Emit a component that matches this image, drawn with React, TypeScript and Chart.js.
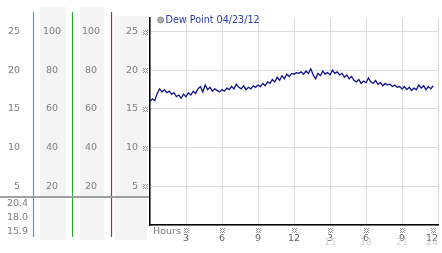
import React, { useEffect, useRef } from "react";
import { Chart, registerables } from "chart.js";

Chart.register(...registerables);

// ---------- data ----------
const STEP_HOURS = 0.2;
const dewPoint = [
  16.0, 16.3, 16.1, 17.0, 17.6, 17.2, 17.5, 17.1, 17.3, 16.9,
  17.1, 16.6, 16.8, 16.4, 16.9, 16.6, 17.1, 16.8, 17.3, 17.0,
  17.6, 17.9, 17.2, 18.1, 17.5, 17.8, 17.3, 17.6, 17.4, 17.2,
  17.5, 17.3, 17.7, 17.5, 17.9, 17.6, 18.2, 17.8, 17.6, 18.0,
  17.5, 17.8, 17.6, 18.0, 17.8, 18.1, 17.9, 18.3, 18.0, 18.5,
  18.3, 18.8, 18.5, 19.1, 18.7, 19.3, 18.9, 19.5, 19.2, 19.6,
  19.5, 19.7, 19.6, 19.8, 19.5, 19.9, 19.6, 20.2, 19.4, 18.9,
  19.6, 19.3, 19.9, 19.5, 19.7, 19.4, 20.0, 19.6, 19.8, 19.4,
  19.6, 19.1, 19.4, 18.9, 19.2, 18.7, 18.5, 18.8, 18.3, 18.6,
  18.4, 19.0, 18.5, 18.3, 18.7, 18.2, 18.4, 18.0, 18.3, 18.1,
  18.2, 17.9, 18.1, 17.8, 17.9, 17.6, 17.9, 17.5, 17.8, 17.4,
  17.7, 17.5, 18.1, 17.7, 18.0, 17.5, 17.9, 17.6, 18.0,
];
const seriesLabel = "Dew Point 04/23/12";

const xTickHours = [3, 6, 9, 12, 15, 18, 21, 24];
const xTickLabels = ["3", "6", "9", "12", "3", "6", "9", "12"];
const secondRowHours = [15, 18, 21, 24];
const secondRowLabels = ["15", "18", "21", "24"];
const tempTicks = [25, 20, 15, 10, 5];
const humidityTicks = [100, 80, 60, 40, 20];
const currentValues = ["20.4", "18.0", "15.9"];

const FONT = "DejaVu Sans";

function drawMarker(ctx: CanvasRenderingContext2D, cx: number, cy: number) {
  ctx.fillStyle = "#9a9a9a";
  const x0 = Math.round(cx) - 2;
  const y0 = Math.round(cy) - 2;
  const pts = [
    [0, 0], [2, 0], [4, 0], [1, 1], [3, 1], [0, 2], [4, 2], [1, 3], [3, 3], [0, 4], [2, 4], [4, 4],
  ];
  for (const [dx, dy] of pts) ctx.fillRect(x0 + dx, y0 + dy, 1, 1);
}

const panelPlugin = {
  id: "panel",
  beforeDraw(chart: any) {
    const ctx = chart.ctx as CanvasRenderingContext2D;
    ctx.save();
    ctx.fillStyle = "#ffffff";
    ctx.fillRect(0, 0, chart.width, chart.height);
    ctx.fillStyle = "#f4f4f4";
    ctx.fillRect(40, 7, 26, 233);
    ctx.fillRect(80, 7, 24, 233);
    ctx.fillRect(115, 16, 32, 224);
    ctx.restore();
  },
  afterDraw(chart: any) {
    const ctx = chart.ctx as CanvasRenderingContext2D;
    const y = chart.scales.y;
    const x = chart.scales.x;
    const area = chart.chartArea;
    ctx.save();

    // colored column separators
    const seps: [number, string][] = [
      [33.5, "#2fa8e0"],
      [72.5, "#2fa82f"],
      [111.5, "#c02828"],
    ];
    ctx.lineWidth = 1.2;
    for (const [sx, col] of seps) {
      ctx.strokeStyle = col;
      ctx.beginPath();
      ctx.moveTo(sx, 12);
      ctx.lineTo(sx, 237);
      ctx.stroke();
    }

    // gray divider
    ctx.strokeStyle = "#a0a0a0";
    ctx.lineWidth = 2;
    ctx.beginPath();
    ctx.moveTo(0, 197);
    ctx.lineTo(area.left - 1, 197);
    ctx.stroke();

    ctx.font = `9.5px "${FONT}"`;
    ctx.textBaseline = "middle";
    ctx.fillStyle = "#808080";

    // left temperature column
    ctx.textAlign = "right";
    for (const t of tempTicks) {
      ctx.fillText(String(t), 20, y.getPixelForValue(t));
    }
    // humidity columns (100% at the 25 line)
    ctx.textAlign = "center";
    for (const h of humidityTicks) {
      const py = y.getPixelForValue((h * 25) / 100);
      ctx.fillText(String(h), 52, py);
      ctx.fillText(String(h), 91, py);
    }
    // current values
    ctx.textAlign = "left";
    currentValues.forEach((v, i) => {
      ctx.fillText(v, 7, 204 + i * 14);
    });

    // y-axis markers
    for (const t of tempTicks) {
      drawMarker(ctx, area.left - 5, y.getPixelForValue(t));
    }
    // x-axis markers
    xTickHours.forEach((h, i) => {
      let px = x.getPixelForValue(h);
      if (i === xTickHours.length - 1) px -= 5;
      drawMarker(ctx, px, area.bottom + 5);
    });

    // Hours label
    ctx.fillStyle = "#777";
    ctx.textAlign = "left";
    ctx.fillText("Hours", 153, 232);

    // second row of hour labels
    ctx.fillStyle = "#d0d0d0";
    secondRowHours.forEach((h, i) => {
      const px = x.getPixelForValue(h);
      if (i === secondRowHours.length - 1) {
        ctx.textAlign = "right";
        ctx.fillText(secondRowLabels[i], px, 243);
      } else {
        ctx.textAlign = "center";
        ctx.fillText(secondRowLabels[i], px, 243);
      }
    });

    // legend
    ctx.beginPath();
    ctx.arc(160.7, 20, 3, 0, Math.PI * 2);
    ctx.fillStyle = "#b0b0b0";
    ctx.fill();
    ctx.strokeStyle = "#8a8a8a";
    ctx.lineWidth = 1;
    ctx.stroke();
    ctx.font = `9.6px "${FONT}"`;
    ctx.fillStyle = "#2a3aa8";
    ctx.textAlign = "left";
    ctx.fillText(chart.data.datasets[0].label, 165.5, 20.5);

    ctx.restore();
  },
};

export default function App() {
  const ref = useRef<HTMLCanvasElement | null>(null);

  useEffect(() => {
    if (!ref.current) return;
    const points = dewPoint.map((v, i) => ({ x: i * STEP_HOURS, y: v }));
    const chart = new Chart(ref.current, {
      type: "line",
      data: {
        datasets: [
          {
            label: seriesLabel,
            data: points,
            borderColor: "#12128c",
            borderWidth: 1.3,
            pointRadius: 0,
            tension: 0,
            fill: false,
          },
        ],
      },
      options: {
        animation: false,
        responsive: false,
        layout: { padding: { left: 0, top: 13, right: 4, bottom: 0 } },
        plugins: { legend: { display: false }, tooltip: { enabled: false } },
        scales: {
          x: {
            type: "linear",
            min: 0,
            max: 24,
            afterFit(scale: any) {
              scale.height = 28;
              scale.paddingLeft = 0;
              scale.paddingRight = 0;
            },
            grid: { color: "#dcdcdc", drawTicks: false },
            border: { color: "#000", width: 1.5 },
            ticks: {
              stepSize: 3,
              padding: 8,
              align: "inner",
              maxRotation: 0,
              autoSkip: false,
              color: "#666",
              font: { family: FONT, size: 9.5 },
              callback: (v: any) => {
                const idx = xTickHours.indexOf(Number(v));
                return idx >= 0 ? xTickLabels[idx] : "";
              },
            },
          },
          y: {
            min: 0,
            max: 26.8,
            afterFit(scale: any) {
              scale.width = 150;
            },
            grid: { color: "#dcdcdc", drawTicks: false },
            border: { color: "#000", width: 1.5 },
            ticks: {
              stepSize: 5,
              includeBounds: false,
              padding: 12,
              color: "#808080",
              font: { family: FONT, size: 9.5 },
              callback: (v: any) => (tempTicks.includes(Number(v)) ? String(v) : ""),
            },
          },
        },
      },
      plugins: [panelPlugin],
    });
    return () => chart.destroy();
  }, []);

  return (
    <div style={{ position: "fixed", left: 0, top: 0, width: 442, height: 253 }}>
      <canvas ref={ref} width={442} height={253} style={{ display: "block" }} />
    </div>
  );
}
